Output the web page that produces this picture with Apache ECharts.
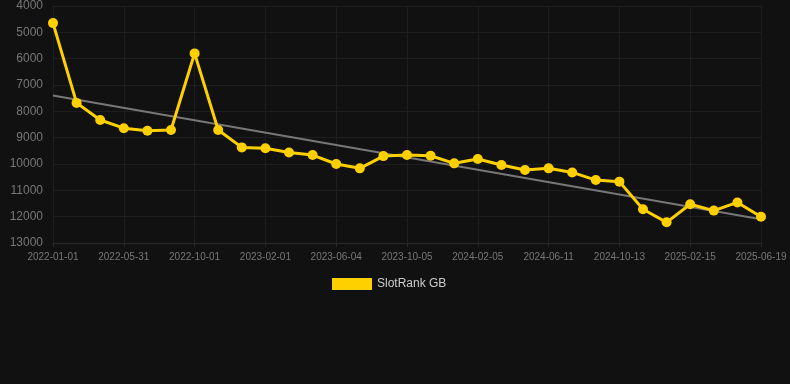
<!DOCTYPE html>
<html><head><meta charset="utf-8">
<script src="https://cdn.jsdelivr.net/npm/echarts@6/dist/echarts.min.js"></script>
<style>html,body{margin:0;padding:0;background:#111111;}#c{width:790px;height:384px;}</style>
</head><body><div id="c"></div>
<script>
var categories = ['2022-01-01','2022-02-20','2022-04-11','2022-05-31','2022-07-11','2022-08-21','2022-10-01','2022-11-11','2022-12-22','2023-02-01','2023-03-15','2023-04-24','2023-06-04','2023-07-15','2023-08-25','2023-10-05','2023-11-15','2023-12-26','2024-02-05','2024-03-17','2024-04-30','2024-06-11','2024-07-22','2024-09-02','2024-10-13','2024-11-23','2025-01-04','2025-02-15','2025-03-28','2025-05-09','2025-06-19'];
var slotRank = [4650,7680,8330,8640,8740,8710,5800,8710,9370,9400,9560,9660,10000,10165,9700,9660,9685,9975,9810,10040,10230,10165,10320,10610,10670,11720,12215,11530,11770,11460,12000];
var trendStart = 7400;
var trendEnd = 12100;
var trendData = categories.map(function(c,i){ return i===0 ? trendStart : (i===categories.length-1 ? trendEnd : null); });
var yTicks = [4000,13000,1000];

var chart = echarts.init(document.getElementById('c'), null, {renderer:'canvas'});
chart.setOption({
  backgroundColor:'#111111',
  animation:false,
  grid:{left:53,right:29,top:6,bottom:141,containLabel:false},
  legend:{
    data:['SlotRank GB'], top:273, left:327,
    itemWidth:40, itemHeight:12, icon:'rect', itemGap:10,
    textStyle:{color:'#cccccc', fontSize:12, fontFamily:'Liberation Sans, Arial, sans-serif'}
  },
  xAxis:{
    type:'category', data:categories, boundaryGap:false,
    axisLine:{show:true, lineStyle:{color:'#2a2a2a'}},
    axisTick:{show:true, interval:2, length:4, lineStyle:{color:'#2a2a2a'}},
    axisLabel:{interval:2, color:'#777777', fontSize:10, margin:9, fontFamily:'Liberation Sans, Arial, sans-serif'},
    splitLine:{show:true, interval:2, lineStyle:{color:'#1e1e1e'}}
  },
  yAxis:{
    type:'value', inverse:true, min:yTicks[0], max:yTicks[1], interval:yTicks[2],
    axisLine:{show:false}, axisTick:{show:false},
    axisLabel:{color:'#777777', fontSize:12, margin:10, formatter:function(v){return String(v);}, fontFamily:'Liberation Sans, Arial, sans-serif'},
    splitLine:{show:true, lineStyle:{color:'#1e1e1e'}}
  },
  series:[
    {name:'Trend', type:'line', data:trendData, connectNulls:true, symbol:'none',
     lineStyle:{color:'#777777', width:2}, z:1, silent:true},
    {name:'SlotRank GB', type:'line', data:slotRank, symbol:'circle', symbolSize:10,
     itemStyle:{color:'#FFD000'}, lineStyle:{color:'#FFD000', width:3}, z:2}
  ]
});
</script></body></html>
